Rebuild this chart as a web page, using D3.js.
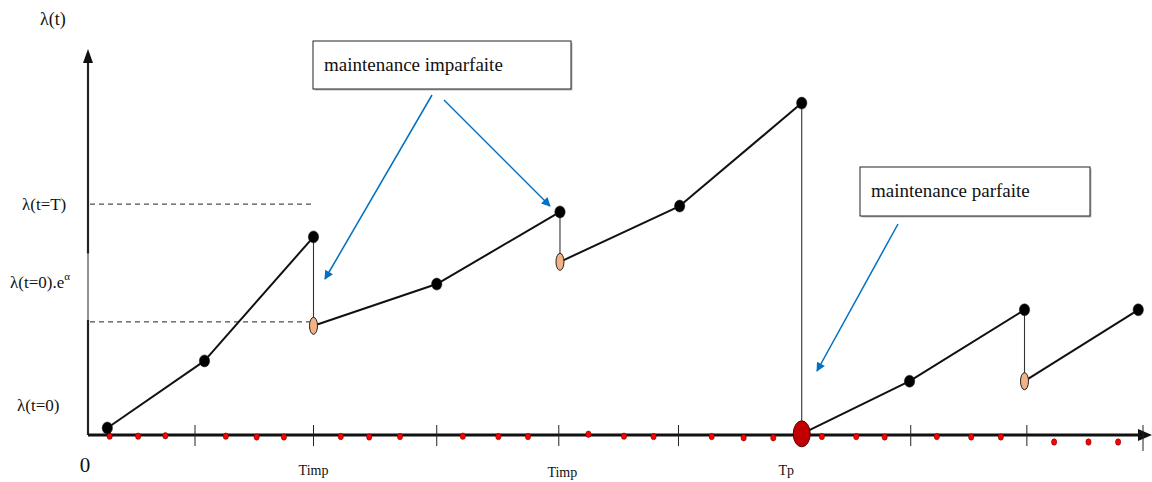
<!DOCTYPE html>
<html>
<head>
<meta charset="utf-8">
<script src="https://cdn.jsdelivr.net/npm/d3@7/dist/d3.min.js"></script>
<style>
  html, body { margin: 0; padding: 0; background: #fff; }
  svg { display: block; }
</style>
</head>
<body>
<svg id="chart" width="1152" height="482"></svg>
<script>
// ---------- data (time units along the axis, λ units up the axis) ----------
const tickT = [1.00, 2.00, 3.04, 4.07, 5.08, 7.04, 8.02, 9.00];
const axisLabels = [
  { t: 2.00, text: "Timp", dy: 0 },
  { t: 4.10, text: "Timp", dy: 2 },
  { t: 5.99, text: "Tp", dy: 0 }
];
// failure-rate path: black points (before maintenance) and restored points
const pathT   = [0.26, 1.08, 2.00, 2.00, 3.04, 4.08, 4.08, 5.09, 6.12, 6.12, 7.03, 8.00, 8.00, 8.96];
const pathL   = [0.18, 1.90, 5.08, 2.80, 3.87, 5.72, 4.44, 5.87, 8.51, 0.03, 1.38, 3.21, 1.38, 3.21];
const pathKind = ["f", "f", "f", "imp", "f", "f", "imp", "f", "f", "perf", "f", "f", "imp", "f"];
// small red failure dots on the time axis
const dotT = [0.28, 0.52, 0.75, 1.26, 1.52, 1.75, 2.23, 2.47, 2.73, 3.26, 3.56, 3.81,
              4.32, 4.62, 4.87, 5.36, 5.63, 5.88, 6.29, 6.58, 6.82, 7.26, 7.55, 7.80,
              8.25, 8.54, 8.79];
const dotL = [-0.03, -0.03, -0.02, -0.03, -0.05, -0.05, -0.04, -0.05, -0.04, -0.03, -0.04, -0.04,
              0.02, -0.03, -0.04, -0.04, -0.07, -0.07, -0.04, -0.04, -0.05, -0.04, -0.05, -0.05,
              -0.18, -0.18, -0.18];
// reference levels on the λ axis
const levelNames = ["λ(t)", "λ(t=T)", "λ(t=0).e", "λ(t=0)"];
const levelT = 5.92;   // λ(t=T)
const levelA = 2.90;   // λ(t=0).e^α
const callouts = ["maintenance imparfaite", "maintenance parfaite"];

const FONT = "'Liberation Serif', 'Times New Roman', 'DejaVu Serif', serif";

// ---------- scales ----------
const svg = d3.select("#chart");
const x = d3.scaleLinear().domain([0, 9]).range([76.5, 1143]);
const y = d3.scaleLinear().domain([0, 10]).range([435, 45]);
const x0 = 88, yBase = y(0);

const defs = svg.append("defs");
defs.append("marker").attr("id", "blueHead").attr("viewBox", "0 0 10 10")
  .attr("refX", 9).attr("refY", 5).attr("markerWidth", 11).attr("markerHeight", 9)
  .attr("markerUnits", "userSpaceOnUse").attr("orient", "auto")
  .append("path").attr("d", "M0,0 L10,5 L0,10 Z").attr("fill", "#0070C0");

// dashed reference lines
svg.append("line").attr("x1", x0 + 2).attr("x2", x(2.0)).attr("y1", y(levelT)).attr("y2", y(levelT))
  .attr("stroke", "#222").attr("stroke-width", 1).attr("stroke-dasharray", "5,4");
svg.append("line").attr("x1", x0 + 2).attr("x2", x(1.97)).attr("y1", y(levelA)).attr("y2", y(levelA))
  .attr("stroke", "#222").attr("stroke-width", 1).attr("stroke-dasharray", "5,4");

// y axis (thick with a thin stretch) and arrow
svg.append("line").attr("x1", x0).attr("x2", x0).attr("y1", yBase).attr("y2", y(2.95))
  .attr("stroke", "#222").attr("stroke-width", 2.2);
svg.append("line").attr("x1", x0).attr("x2", x0).attr("y1", y(2.95)).attr("y2", y(4.65))
  .attr("stroke", "#222").attr("stroke-width", 1);
svg.append("line").attr("x1", x0).attr("x2", x0).attr("y1", y(4.65)).attr("y2", 60)
  .attr("stroke", "#222").attr("stroke-width", 2.2);
svg.append("path").attr("d", `M${x0},49 L${x0 - 5},63 L${x0 + 5},63 Z`).attr("fill", "#111");

// x axis with arrow
svg.append("line").attr("x1", x0).attr("x2", 1142).attr("y1", yBase).attr("y2", yBase)
  .attr("stroke", "#111").attr("stroke-width", 3);
svg.append("path").attr("d", `M1152,${yBase} L1138,${yBase - 6} L1138,${yBase + 6} Z`).attr("fill", "#111");

// ticks
svg.selectAll(".tick").data(tickT).join("line")
  .attr("x1", d => x(d)).attr("x2", d => x(d))
  .attr("y1", yBase - 10).attr("y2", (d, i) => yBase + (i === tickT.length - 1 ? 16 : 11))
  .attr("stroke", "#222").attr("stroke-width", 1);

// connecting path segments
const pts = pathT.map((t, i) => ({ t, l: pathL[i], k: pathKind[i] }));
for (let i = 0; i < pts.length - 1; i++) {
  const a = pts[i], b = pts[i + 1];
  const vertical = (b.k === "imp" || b.k === "perf");
  svg.append("line")
    .attr("x1", x(a.t)).attr("y1", y(a.l)).attr("x2", x(b.t)).attr("y2", y(b.l))
    .attr("stroke", vertical ? "#333" : "#111")
    .attr("stroke-width", vertical ? 1.1 : 2);
}

// red failure dots
svg.selectAll(".dot").data(dotT).join("ellipse")
  .attr("cx", d => x(d)).attr("cy", (d, i) => y(dotL[i]))
  .attr("rx", 2.6).attr("ry", 3.2)
  .attr("fill", "#ff0000").attr("stroke", "#7a0000").attr("stroke-width", 0.6);

// markers
svg.selectAll(".pt").data(pts).join("ellipse")
  .attr("cx", d => x(d.t)).attr("cy", d => y(d.l))
  .attr("rx", d => d.k === "imp" ? 4 : d.k === "perf" ? 8.5 : 5.2)
  .attr("ry", d => d.k === "imp" ? 8.5 : d.k === "perf" ? 13 : 6)
  .attr("fill", d => d.k === "imp" ? "#F4B183" : d.k === "perf" ? "#C00000" : "#000")
  .attr("stroke", d => d.k === "perf" ? "#5a0000" : "#222")
  .attr("stroke-width", d => d.k === "f" ? 0.5 : 1);

// text helper
function txt(xp, yp, size, s, anchor) {
  return svg.append("text").attr("x", xp).attr("y", yp)
    .attr("font-family", FONT).attr("font-size", size).attr("fill", "#111")
    .attr("text-anchor", anchor || "start").text(s);
}

// level labels
txt(40, 25, 18, levelNames[0]);
txt(22, y(levelT) + 6, 17, levelNames[1]);
const ea = txt(10, 288, 17, levelNames[2]);
ea.append("tspan").attr("dy", -8).attr("font-size", 11).text("α");
txt(17, 411, 17, levelNames[3]);

// axis labels
txt(85, 472, 21, "0", "middle");
svg.selectAll(".alab").data(axisLabels).join("text")
  .attr("x", d => x(d.t)).attr("y", d => 475 + d.dy)
  .attr("font-family", FONT).attr("fill", "#111")
  .attr("font-size", 14).attr("text-anchor", "middle").text(d => d.text);

// callout boxes
function box(x1, y1, w, h, label) {
  svg.append("rect").attr("x", x1 + 1.5).attr("y", y1 + 1.5).attr("width", w).attr("height", h)
    .attr("fill", "#bbb");
  svg.append("rect").attr("x", x1).attr("y", y1).attr("width", w).attr("height", h)
    .attr("fill", "#fff").attr("stroke", "#222").attr("stroke-width", 1);
  txt(x1 + 11, y1 + 30, 19, label);
}
box(313, 41, 258, 48, callouts[0]);
box(860, 167, 230, 49, callouts[1]);

// blue arrows
const arrows = [
  [[432, 95], [325, 279]],
  [[444, 100], [550, 206]],
  [[898, 224], [817, 371]]
];
svg.selectAll(".arr").data(arrows).join("line")
  .attr("x1", d => d[0][0]).attr("y1", d => d[0][1])
  .attr("x2", d => d[1][0]).attr("y2", d => d[1][1])
  .attr("stroke", "#0070C0").attr("stroke-width", 1.5)
  .attr("marker-end", "url(#blueHead)");
</script>
</body>
</html>
